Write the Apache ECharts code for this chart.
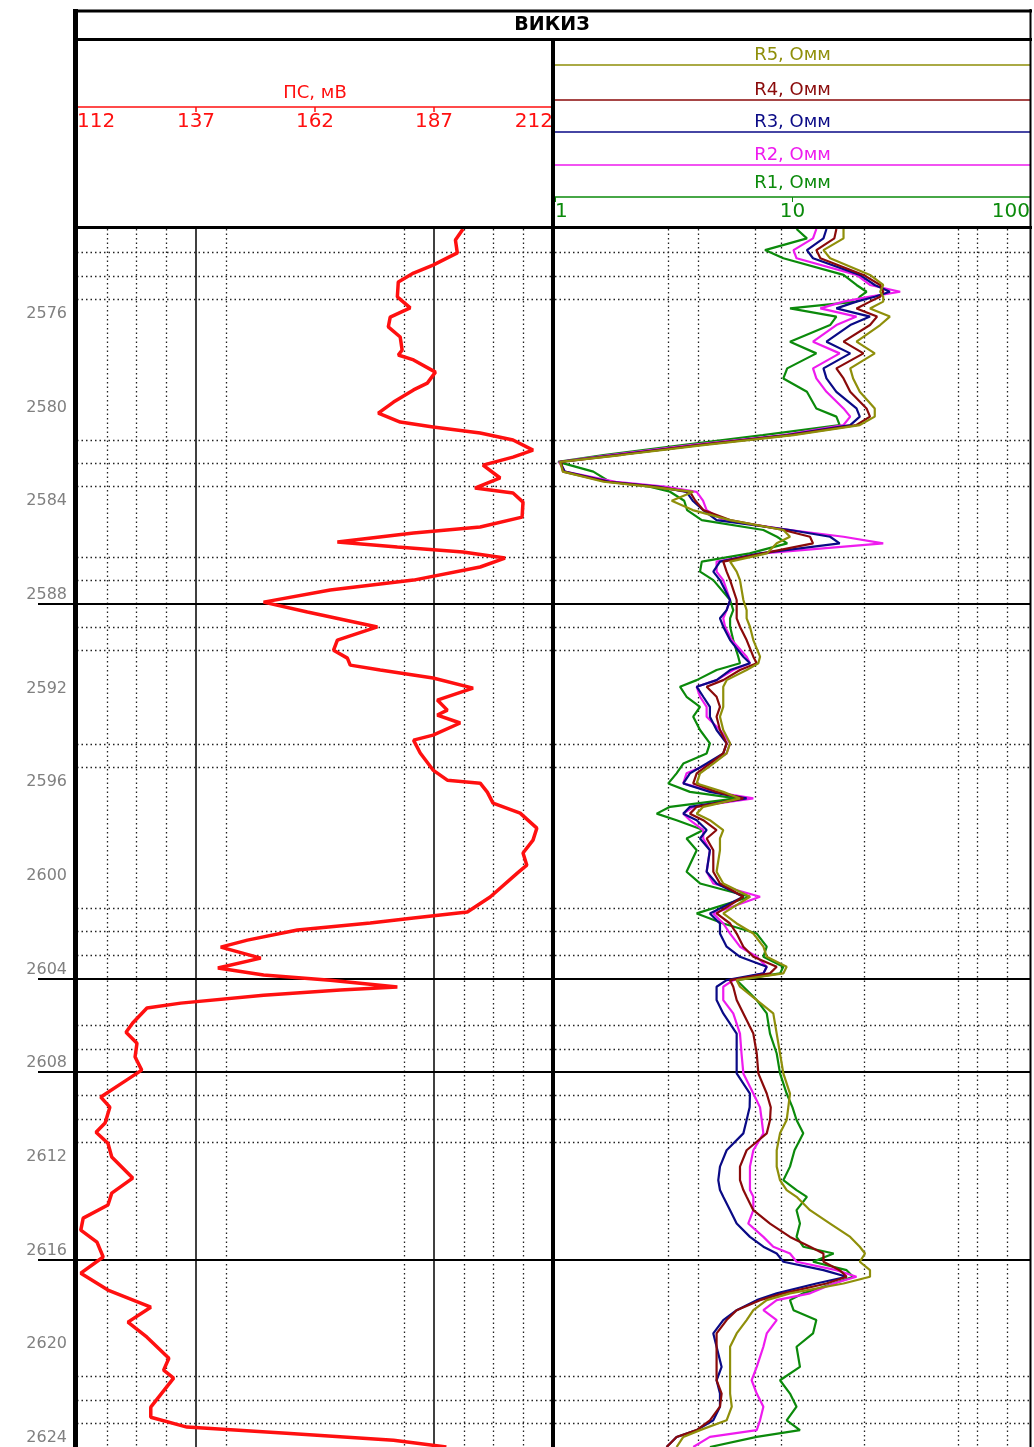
<!DOCTYPE html>
<html>
<head>
<meta charset="utf-8">
<script src="https://cdn.jsdelivr.net/npm/echarts@6/dist/echarts.min.js"></script>
<style>
html,body{margin:0;padding:0;background:#fff;}
#chart{width:1034px;height:1447px;}
</style>
</head>
<body>
<div id="chart"></div>
<script>
// ---------------- DATA ----------------
const titleText = 'ВИКИЗ';
const psName = 'ПС, мВ';
const psTicks = [112, 137, 162, 187, 212];
const rTicks = [1, 10, 100];
const depthTicks = [2576, 2580, 2584, 2588, 2592, 2596, 2600, 2604, 2608, 2612, 2616, 2620, 2624];
const rNames = ['R1, Омм', 'R2, Омм', 'R3, Омм', 'R4, Омм', 'R5, Омм'];

// grid lines (values)
const psDotted = [118.25, 124.5, 130.75, 143.25, 180.75, 193.25, 199.5, 205.75];
const psSolid = [137, 187];
const rDotted = [3, 4, 7, 9, 20, 50, 60, 80];
const depthDotted = [2573, 2574, 2575, 2581, 2582, 2583, 2586, 2587, 2589, 2590, 2594, 2595,
  2601, 2602, 2603, 2606, 2607, 2609, 2610, 2611, 2621, 2622, 2623];
const depthSolid = [2588, 2604, 2608, 2616];

// SP curve
const psDepth = [
  2572.0, 2572.47, 2573.02, 2573.54, 2573.88, 2574.26, 2574.90, 2575.37, 2575.76, 2576.18,
  2576.61, 2577.17, 2577.38, 2577.59, 2578.11, 2578.58, 2578.87, 2579.39, 2579.86, 2580.24,
  2580.45, 2580.71, 2581.01, 2581.44, 2581.74, 2582.08, 2582.63, 2583.06, 2583.27, 2583.66,
  2584.30, 2584.72, 2584.98, 2585.36, 2585.58, 2585.79, 2586.05, 2586.43, 2586.99, 2587.41,
  2587.93, 2588.35, 2588.99, 2589.55, 2589.98, 2590.32, 2590.62, 2590.83, 2591.17, 2591.60,
  2592.11, 2592.54, 2592.75, 2593.09, 2593.61, 2593.82, 2594.37, 2595.10, 2595.53, 2595.66,
  2596.04, 2596.51, 2596.94, 2597.58, 2598.09, 2598.64, 2599.16, 2599.50, 2600.52, 2601.16,
  2601.42, 2601.63, 2601.93, 2602.36, 2602.66, 2603.13, 2603.55, 2603.85, 2604.07, 2604.36,
  2604.49, 2604.71, 2605.05, 2605.26, 2605.90, 2606.29, 2606.76, 2607.35, 2607.91, 2608.55,
  2609.06, 2609.49, 2610.17, 2610.56, 2611.03, 2611.62, 2612.52, 2613.16, 2613.67, 2614.23,
  2614.74, 2615.25, 2615.89, 2616.58, 2617.30, 2618.03, 2618.67, 2619.31, 2620.21, 2620.72,
  2621.06, 2622.30, 2622.73, 2623.15, 2623.41, 2623.71, 2624.0
];
const psValue = [
  193.1, 191.5, 191.9, 186.8, 182.7, 179.5, 179.3, 182.0, 177.8, 177.4,
  179.9, 180.3, 179.5, 182.7, 187.3, 185.6, 182.7, 178.5, 175.3, 179.9,
  186.8, 196.7, 203.6, 207.8, 203.6, 197.3, 200.9, 195.6, 203.6, 205.7,
  205.5, 196.7, 182.7, 166.7, 179.3, 193.1, 201.9, 196.7, 182.7, 165.2,
  151.2, 160.4, 175.1, 166.7, 165.9, 168.8, 169.4, 175.7, 186.8, 195.2,
  187.7, 189.8, 187.7, 192.5, 186.8, 182.7, 184.1, 186.8, 189.8, 196.7,
  198.2, 199.4, 205.1, 208.6, 207.8, 205.7, 206.5, 204.5, 198.8, 194.0,
  182.7, 173.6, 158.3, 147.8, 142.2, 150.6, 141.6, 151.2, 165.2, 179.3,
  167.3, 151.2, 133.8, 126.7, 123.7, 122.3, 124.6, 124.2, 125.6, 120.8,
  117.0, 118.9, 117.9, 116.0, 118.5, 119.3, 123.7, 119.3, 118.5, 113.3,
  112.8, 116.2, 117.5, 112.8, 118.5, 127.5, 122.7, 126.7, 131.3, 130.2,
  132.3, 127.5, 127.5, 135.1, 156.0, 178.5, 189.6
];

// resistivity curves (shared depths)
const rDepth = [
  2572.0, 2572.4, 2572.9, 2573.25, 2573.96, 2574.39, 2574.68, 2574.89, 2575.1, 2575.39,
  2575.74, 2576.1, 2576.81, 2577.31, 2577.95, 2578.38, 2578.95, 2579.66, 2580.01, 2580.37,
  2580.8, 2581.22, 2581.65, 2581.94, 2582.36, 2582.79, 2583.0, 2583.22, 2583.6, 2584.0,
  2584.43, 2584.85, 2585.14, 2585.42, 2585.85, 2586.2, 2586.63, 2586.99, 2587.84, 2588.27,
  2588.62, 2588.98, 2589.55, 2590.26, 2590.54, 2590.83, 2591.26, 2591.54, 2591.97, 2592.4,
  2592.82, 2593.39, 2593.96, 2594.39, 2594.82, 2595.24, 2595.67, 2596.03, 2596.31, 2596.67,
  2596.96, 2597.24, 2597.66, 2598.02, 2598.52, 2599.44, 2599.94, 2600.51, 2601.22, 2601.65,
  2602.08, 2602.64, 2603.07, 2603.5, 2603.78, 2604.07, 2604.35, 2604.92, 2605.49, 2606.35,
  2607.2, 2608.05, 2608.91, 2609.5, 2610.04, 2610.61, 2611.33, 2612.03, 2612.61, 2613.03,
  2613.32, 2613.89, 2614.46, 2615.03, 2615.45, 2615.74, 2616.09, 2616.45, 2616.73, 2617.02,
  2617.44, 2617.73, 2618.16, 2618.58, 2619.15, 2619.72, 2620.58, 2621.15, 2621.72, 2622.28,
  2622.86, 2623.28, 2623.57, 2624.0
];
const r1 = [
  10.4, 11.5, 7.66, 9.15, 16.4, 18.6, 20.5, 19.2, 18.6, 9.76,
  15.3, 14.4, 9.76, 12.6, 9.5, 9.15, 11.5, 12.6, 15.3, 15.8,
  7.5, 3.5, 1.6, 1.03, 1.45, 1.7, 2.5, 3.05, 3.5, 3.6,
  4.15, 7.54, 8.6, 9.5, 6.6, 4.15, 4.08, 4.64, 5.46, 5.63,
  5.46, 5.46, 5.63, 5.91, 6.01, 4.79, 3.95, 3.36, 3.58, 4.08,
  3.82, 4.08, 4.49, 4.35, 3.47, 3.25, 3.0, 3.7, 5.82, 3.05,
  2.68, 3.25, 4.21, 3.58, 3.95, 3.58, 4.08, 6.62, 3.95, 5.11,
  7.07, 7.79, 7.54, 9.15, 8.86, 5.82, 6.21, 7.07, 7.79, 8.04,
  8.58, 8.86, 9.45, 10.0, 10.4, 11.1, 10.2, 9.76, 9.15, 10.4,
  11.5, 10.4, 10.75, 10.4, 11.1, 14.9, 12.2, 16.9, 18.0, 14.9,
  11.1, 9.76, 10.1, 12.6, 12.2, 10.4, 10.75, 8.86, 9.76, 10.4,
  9.45, 10.75, 7.07, 4.49
];
const r2 = [
  12.6, 12.2, 10.1, 10.4, 18.6, 21.2, 28.4, 21.2, 16.4, 13.1,
  18.6, 15.3, 12.2, 15.8, 12.2, 12.6, 13.9, 16.4, 17.5, 16.4,
  9.15, 3.8, 1.7, 1.04, 1.1, 1.8, 2.9, 3.95, 4.2, 4.35,
  5.11, 9.76, 16.4, 24.1, 7.5, 4.79, 4.79, 5.11, 5.46, 5.28,
  5.11, 5.2, 5.55, 6.41, 6.62, 5.63, 4.79, 3.95, 4.08, 4.35,
  4.35, 4.95, 5.46, 5.28, 4.49, 3.58, 3.47, 4.64, 6.84, 3.82,
  3.47, 3.7, 4.21, 4.21, 4.49, 4.35, 4.64, 7.3, 4.64, 5.11,
  5.46, 6.01, 7.07, 7.79, 7.54, 5.63, 5.11, 5.11, 5.63, 6.01,
  6.1, 6.21, 6.84, 7.3, 7.42, 7.54, 6.84, 6.62, 6.62, 6.62,
  6.84, 6.84, 6.51, 7.54, 8.3, 9.76, 10.4, 15.3, 18.6, 14.9,
  11.85, 8.58, 7.54, 8.58, 7.79, 7.54, 7.07, 6.73, 7.07, 7.54,
  7.3, 7.07, 4.49, 3.82
];
const r3 = [
  13.9, 13.5, 11.5, 12.2, 19.2, 22.2, 25.7, 22.2, 18.6, 15.3,
  21.2, 17.5, 13.9, 17.5, 13.5, 13.9, 15.3, 18.6, 19.2, 17.5,
  9.5, 4.1, 1.8, 1.05, 1.1, 1.7, 2.7, 3.58, 3.8, 4.21,
  4.79, 9.76, 14.4, 15.8, 7.3, 4.95, 4.64, 4.95, 5.46, 5.28,
  4.95, 5.11, 5.46, 6.21, 6.62, 5.46, 4.79, 3.95, 4.21, 4.49,
  4.49, 4.79, 5.28, 5.11, 4.35, 3.7, 3.47, 4.49, 6.41, 3.7,
  3.47, 3.95, 4.35, 4.08, 4.49, 4.35, 4.79, 6.21, 4.49, 4.95,
  4.95, 5.28, 6.01, 7.79, 7.54, 5.28, 4.79, 4.79, 5.11, 5.82,
  5.82, 5.82, 6.62, 6.6, 6.41, 6.21, 5.28, 4.95, 4.87, 4.95,
  5.11, 5.46, 5.82, 6.62, 7.54, 8.58, 9.15, 13.5, 16.9, 12.6,
  8.58, 7.07, 5.82, 5.11, 4.64, 4.79, 5.03, 4.79, 4.95, 4.95,
  4.64, 3.95, 3.25, 2.95
];
const r4 = [
  15.3, 15.0, 12.6, 13.1, 19.9, 23.4, 24.1, 23.4, 21.2, 18.6,
  22.7, 21.2, 16.4, 19.9, 15.3, 16.4, 17.5, 20.5, 21.2, 18.6,
  9.76, 4.1, 1.85, 1.06, 1.08, 1.65, 2.6, 3.7, 3.9, 4.21,
  5.46, 9.15, 11.85, 12.2, 7.5, 5.11, 5.28, 5.46, 5.82, 5.82,
  5.82, 6.01, 6.41, 6.84, 7.07, 6.01, 5.11, 4.35, 4.79, 4.95,
  4.79, 4.95, 5.28, 5.11, 4.49, 3.95, 3.82, 4.79, 6.21, 3.95,
  3.7, 4.21, 4.79, 4.35, 4.64, 4.64, 4.95, 6.21, 4.79, 5.46,
  5.82, 6.21, 6.84, 8.58, 8.04, 5.46, 5.63, 5.82, 6.21, 6.84,
  7.07, 7.18, 7.79, 8.1, 8.04, 7.79, 6.41, 6.01, 6.01, 6.21,
  6.41, 6.84, 8.04, 9.76, 11.85, 13.5, 13.5, 15.8, 16.9, 13.9,
  9.15, 7.3, 5.82, 5.28, 4.79, 4.79, 4.79, 4.79, 5.03, 4.95,
  4.49, 3.95, 3.25, 2.95
];
const r5 = [
  16.4, 16.4, 13.5, 14.4, 21.2, 24.1, 23.4, 24.1, 24.1, 21.2,
  25.7, 23.4, 18.6, 22.2, 17.5, 18.0, 19.2, 22.2, 22.2, 19.2,
  10.1, 4.3, 1.9, 1.05, 1.08, 1.6, 2.5, 3.82, 3.1, 3.8,
  5.46, 9.15, 9.76, 8.58, 7.8, 5.46, 5.82, 6.01, 6.21, 6.41,
  6.41, 6.62, 6.84, 7.3, 7.18, 6.41, 5.28, 5.11, 5.11, 5.11,
  4.95, 5.11, 5.46, 5.28, 4.64, 4.08, 3.95, 5.11, 6.01, 4.21,
  3.95, 4.49, 5.11, 4.95, 4.95, 4.79, 5.11, 6.62, 5.11, 5.82,
  6.84, 7.54, 7.79, 9.45, 9.15, 5.82, 6.01, 7.07, 8.3, 8.58,
  8.86, 9.15, 9.76, 9.6, 9.45, 8.86, 8.58, 8.58, 8.86, 9.45,
  10.4, 11.85, 14.4, 17.5, 19.2, 20.2, 19.2, 21.2, 21.2, 16.4,
  9.76, 7.79, 6.84, 6.41, 5.82, 5.46, 5.46, 5.46, 5.46, 5.55,
  5.28, 4.08, 3.47, 3.25
];

// ---------------- CHART ----------------
const rColors = ['#0b8a0b', '#ee1bee', '#0a0a86', '#8a0a0a', '#8f8f0a'];
const rOffsets = [32, 64, 97, 129, 164];
const psColor = '#ff1010';
const FONT = 'DejaVu Sans';

const TOP = 229, H = 1218;
const chart = echarts.init(document.getElementById('chart'), null, {renderer: 'canvas'});

const dotted = {type: [1.5, 3], color: '#222', width: 1.3};
function gridSeries(xIdx, yIdx, xVals, xSolid, anchorX) {
  const d = [];
  xVals.forEach(v => d.push({xAxis: v, lineStyle: dotted}));
  xSolid.forEach(v => d.push({xAxis: v, lineStyle: {type: 'solid', color: '#000', width: 1.5}}));
  depthDotted.forEach(v => d.push({yAxis: v, lineStyle: dotted}));
  depthSolid.forEach(v => d.push({yAxis: v, lineStyle: {type: 'solid', color: '#000', width: 2}}));
  return {
    type: 'line', xAxisIndex: xIdx, yAxisIndex: yIdx, data: [[anchorX, 2572]],
    showSymbol: false, silent: true, z: 1, lineStyle: {width: 0},
    markLine: {symbol: ['none', 'none'], silent: true, animation: false, label: {show: false}, data: d}
  };
}

const xAxes = [
  { // 0: SP
    gridIndex: 0, type: 'value', min: 112, max: 212, position: 'top', offset: TOP - 107,
    axisLine: {show: true, lineStyle: {color: psColor, width: 1.5}},
    axisTick: {show: true, inside: true, length: 5, customValues: psTicks, lineStyle: {color: psColor, width: 1.5}},
    axisLabel: {show: true, inside: true, customValues: psTicks, margin: 5, color: psColor, fontSize: 20,
      fontFamily: FONT, alignMinLabel: 'left', alignMaxLabel: 'right'},
    splitLine: {show: false},
    name: psName, nameLocation: 'middle', nameGap: 3,
    nameTextStyle: {color: psColor, fontSize: 18, fontFamily: FONT, verticalAlign: 'bottom'}
  }
];
for (let i = 0; i < 5; i++) {
  const isR1 = i === 0;
  xAxes.push({
    gridIndex: 1, type: 'log', logBase: 10, min: 1, max: 100, position: 'top', offset: rOffsets[i],
    axisLine: {show: true, lineStyle: {color: rColors[i], width: 1.5}},
    axisTick: {show: isR1, inside: true, length: 5, customValues: rTicks, lineStyle: {color: rColors[i]}},
    axisLabel: {show: isR1, inside: true, customValues: rTicks, margin: 5, color: rColors[i], fontSize: 20,
      fontFamily: FONT, alignMinLabel: 'left', alignMaxLabel: 'right'},
    splitLine: {show: false},
    name: rNames[i], nameLocation: 'middle', nameGap: isR1 ? 0 : 1,
    nameTextStyle: {color: rColors[i], fontSize: 18, fontFamily: FONT, verticalAlign: 'bottom'}
  });
}
xAxes.push({gridIndex: 2, type: 'value', min: 0, max: 1, show: false});

const yBase = {type: 'value', inverse: true, min: 2572, max: 2624,
  axisLine: {show: false}, axisTick: {show: false}, splitLine: {show: false}};
const yAxes = [
  Object.assign({}, yBase, {gridIndex: 0,
    axisLabel: {show: true, customValues: depthTicks, formatter: v => String(v), color: '#808080',
      fontSize: 16, fontFamily: FONT, margin: 10, verticalAlign: 'bottom', padding: [0, 0, 1, 0]}}),
  Object.assign({}, yBase, {gridIndex: 1, axisLabel: {show: false}}),
  Object.assign({}, yBase, {gridIndex: 2, axisLabel: {show: false}})
];

function pairs(vals, depths) { return vals.map((v, i) => [v, depths[i]]); }

const series = [
  gridSeries(0, 0, psDotted, psSolid, 112),
  gridSeries(5, 1, rDotted, [], 1),
  {
    type: 'line', xAxisIndex: 6, yAxisIndex: 2, data: [[0, 2572]], showSymbol: false, silent: true,
    lineStyle: {width: 0},
    markLine: {symbol: ['none', 'none'], silent: true, animation: false, label: {show: false},
      data: depthSolid.map(v => ({yAxis: v, lineStyle: {type: 'solid', color: '#000', width: 2}}))}
  },
  {
    name: psName, type: 'line', xAxisIndex: 0, yAxisIndex: 0, data: pairs(psValue, psDepth),
    showSymbol: false, z: 5, lineStyle: {color: psColor, width: 3.5}
  }
];
const rData = [r1, r2, r3, r4, r5];
for (let i = 0; i < 5; i++) {
  series.push({
    name: rNames[i], type: 'line', xAxisIndex: 1 + i, yAxisIndex: 1,
    data: pairs(rData[i], rDepth), showSymbol: false, z: 5 + i,
    lineStyle: {color: rColors[i], width: 2.2}
  });
}

chart.setOption({
  animation: false,
  backgroundColor: '#fff',
  grid: [
    {left: 77, top: TOP, width: 476, height: H},
    {left: 555, top: TOP, width: 475, height: H},
    {left: 38, top: TOP, width: 38, height: H}
  ],
  xAxis: xAxes,
  yAxis: yAxes,
  series: series,
  graphic: [
    {type: 'line', z: 100, shape: {x1: 75.5, y1: 9, x2: 75.5, y2: 1447}, style: {stroke: '#000', lineWidth: 5}},
    {type: 'line', z: 100, shape: {x1: 1030.5, y1: 9, x2: 1030.5, y2: 1447}, style: {stroke: '#000', lineWidth: 2}},
    {type: 'line', z: 100, shape: {x1: 73, y1: 11, x2: 1032, y2: 11}, style: {stroke: '#000', lineWidth: 3}},
    {type: 'line', z: 100, shape: {x1: 73, y1: 39.5, x2: 1032, y2: 39.5}, style: {stroke: '#000', lineWidth: 3}},
    {type: 'line', z: 100, shape: {x1: 73, y1: 227.5, x2: 1032, y2: 227.5}, style: {stroke: '#000', lineWidth: 3}},
    {type: 'line', z: 100, shape: {x1: 553, y1: 39, x2: 553, y2: 1447}, style: {stroke: '#000', lineWidth: 4}},
    {type: 'text', z: 100, x: 552, y: 25, style: {text: titleText, fill: '#000', font: 'bold 19px "DejaVu Sans"',
      textAlign: 'center', textVerticalAlign: 'middle'}}
  ]
});
</script>
</body>
</html>
